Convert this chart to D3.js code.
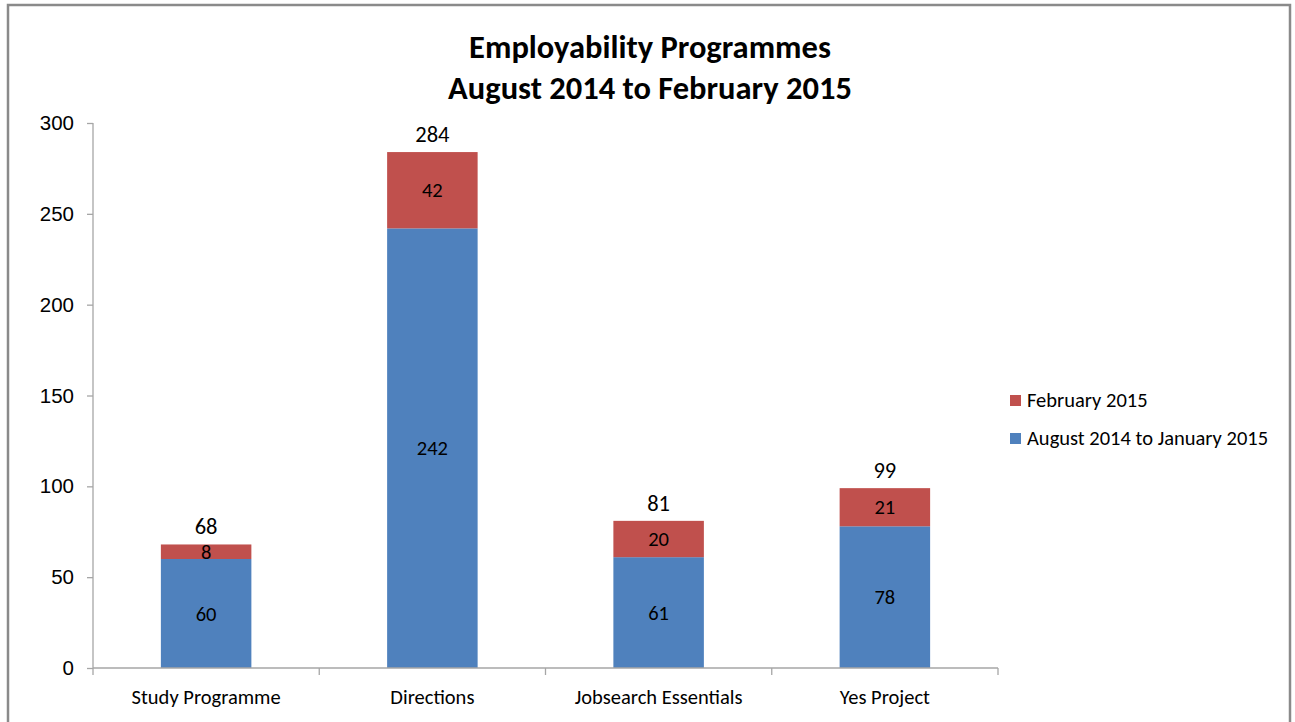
<!DOCTYPE html>
<html>
<head>
<meta charset="utf-8">
<script src="https://cdn.jsdelivr.net/npm/d3@7"></script>
<style>
  html, body { margin: 0; padding: 0; background: #fff; }
  svg { display: block; font-family: Carlito, Lato, "Noto Sans", sans-serif; }
</style>
</head>
<body>
<svg id="chart" width="1295" height="722"></svg>
<script>
// data
const categories = ['Study Programme', 'Directions', 'Jobsearch Essentials', 'Yes Project'];
const augJan = [60, 242, 61, 78];
const february = [8, 42, 20, 21];
const seriesNames = ['August 2014 to January 2015', 'February 2015'];
const seriesColors = ['#4F81BD', '#C0504D'];
const yTicks = [0, 50, 100, 150, 200, 250, 300];
const titleLines = ['Employability Programmes', 'August 2014 to February 2015'];

const svg = d3.select('#chart');
const margin = {left: 93, right: 297, top: 123, bottom: 54};
const W = 1295; const H = 722;

// outer frame (bottom edge cut off in the original)
svg.append('path')
    .attr('d', `M8,722V5H1290V722`)
    .style('fill', 'none')
    .style('stroke', '#8a8a8a')
    .style('stroke-width', 2.5);

const x = d3.scaleBand()
    .domain(categories)
    .range([margin.left, W - margin.right])
    .paddingInner(0.6)
    .paddingOuter(0.3);

const y = d3.scaleLinear()
    .domain([0, 300])
    .range([H - margin.bottom, margin.top]);

const rows = categories.map((c, i)=>({cat: c, a: augJan[i], b: february[i]}));
const stack = d3.stack().keys(['a', 'b'])(rows);

// bars
const g = svg.append('g');
stack.forEach((layer, li)=>{
  g.append('g').selectAll('rect')
      .data(layer)
      .enter().append('rect')
      .attr('x', (d)=>x(d.data.cat))
      .attr('width', x.bandwidth())
      .attr('y', (d)=>y(d[1]))
      .attr('height', (d)=>y(d[0]) - y(d[1]))
      .style('fill', seriesColors[li]);

  g.append('g').selectAll('text')
      .data(layer)
      .enter().append('text')
      .attr('x', (d)=>x(d.data.cat) + x.bandwidth()/2)
      .attr('y', (d)=>(y(d[0]) + y(d[1]))/2)
      .attr('dy', '0.35em')
      .attr('text-anchor', 'middle')
      .style('font-size', '20.5px')
      .style('fill', '#000')
      .text((d)=>d[1] - d[0]);
});

// totals
g.append('g').selectAll('text')
    .data(rows)
    .enter().append('text')
    .attr('x', (d)=>x(d.cat) + x.bandwidth()/2)
    .attr('y', (d)=>y(d.a + d.b) - 10)
    .attr('text-anchor', 'middle')
    .style('font-size', '22.5px')
    .style('fill', '#000')
    .text((d)=>d.a + d.b);

// y axis
const yAxis = svg.append('g')
    .attr('transform', `translate(${margin.left},0)`)
    .call(d3.axisLeft(y).tickValues(yTicks).tickSize(6).tickSizeOuter(0).tickPadding(13));

// x axis with ticks at category boundaries
const step = x.step();
const xAxis = svg.append('g')
    .attr('transform', `translate(0,${H - margin.bottom})`);
xAxis.append('line')
    .attr('x1', margin.left).attr('x2', W - margin.right)
    .attr('y1', 0).attr('y2', 0);
xAxis.selectAll('line.tk')
    .data(d3.range(categories.length + 1))
    .enter().append('line')
    .attr('class', 'tk')
    .attr('x1', (i)=>margin.left + i*step)
    .attr('x2', (i)=>margin.left + i*step)
    .attr('y1', 0).attr('y2', 7);
xAxis.selectAll('text')
    .data(categories)
    .enter().append('text')
    .attr('x', (d)=>x(d) + x.bandwidth()/2)
    .attr('y', 36)
    .attr('text-anchor', 'middle')
    .style('font-size', '20.5px')
    .style('fill', '#000')
    .text((d)=>d);

svg.selectAll('.domain, .tick line, line')
    .filter(function() {
      return this.parentNode !== svg.node();
    })
    .style('stroke', '#a6a6a6')
    .style('stroke-width', 1.3);
yAxis.selectAll('text').style('font-size', '20.5px').style('fill', '#000');
yAxis.select('.domain').attr('d', `M0,${y(0)}V${y(300)}`);

// title
svg.append('text')
    .attr('x', 650)
    .attr('text-anchor', 'middle')
    .style('font-size', '32.5px')
    .style('font-weight', 'bold')
    .style('fill', '#000')
    .selectAll('tspan')
    .data(titleLines)
    .enter().append('tspan')
    .attr('x', 650)
    .attr('y', (d, i)=>58 + i*41)
    .text((d)=>d);

// legend (February first, as in original)
const legend = svg.append('g').attr('transform', 'translate(1010,400)');
[1, 0].forEach((si, k)=>{
  const item = legend.append('g').attr('transform', `translate(0,${k*38})`);
  item.append('rect')
      .attr('x', 0).attr('y', -5)
      .attr('width', 11).attr('height', 11)
      .style('fill', seriesColors[si]);
  item.append('text')
      .attr('x', 17)
      .attr('y', 0)
      .attr('dy', '0.35em')
      .style('font-size', '20.5px')
      .style('fill', '#000')
      .text(seriesNames[si]);
});
</script>
</body>
</html>
